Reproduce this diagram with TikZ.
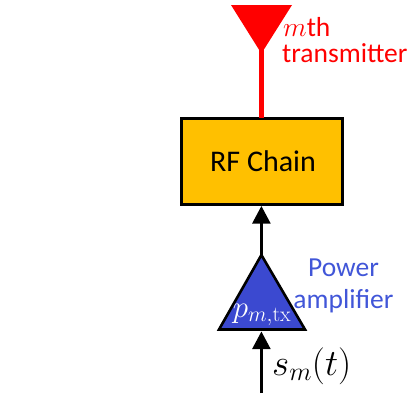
\RequirePackage{fix-cm}
\documentclass[tikz,border=0pt]{standalone}
\usepackage[no-math]{fontspec}
\setmainfont{Carlito}
\usetikzlibrary{arrows.meta}
\definecolor{rfgold}{HTML}{FFC000}
\definecolor{pablue}{HTML}{3B49D0}
\definecolor{patext}{HTML}{4156D8}
\tikzset{
  signal/.style={line width=2.2pt,-{Triangle[length=17.5pt,width=18pt]}},
  lbl/.style={inner sep=0pt,font=\fontsize{27.5}{32}\selectfont},
}
\begin{document}
\begin{tikzpicture}[x=1pt,y=-1pt]
\useasboundingbox (0,0) rectangle (409,399);
% RF chain
\node[draw=black,line width=3pt,fill=rfgold,minimum width=161pt,minimum height=86.5pt,inner sep=0pt,outer sep=0pt,anchor=north west] (rf) at (181.5,118) {};
\node[inner sep=0pt,anchor=base,font=\fontsize{30}{36}\selectfont] (rflab) at (263,171) {RF Chain};
% antenna
\coordinate (antTip) at (261.4,53.5);
\coordinate (antL) at (231,5);
\coordinate (antR) at (292,5);
\coordinate (antStem) at (261.4,44);
\fill[red] (antL) -- (antR) -- (antTip) -- cycle;
\draw[red,line width=4.7pt] (antStem) -- (antStem |- rf.north);
\node[lbl,text=red,anchor=base west] (mth) at (283,36) {$m$th};
\node[lbl,text=red,anchor=base west] (tx) at (282,62) {transmitter};
% amplifier
\coordinate (paTop) at (261.4,255);
\coordinate (paL) at (219,329.5);
\coordinate (paR) at (305,329.5);
\coordinate (paOut) at (261.4,206);
\coordinate (paIn) at (261.4,393);
\coordinate (paBase) at (261.4,331.5);
\filldraw[fill=pablue,draw=black,line width=2.6pt,line join=miter] (paTop) -- (paR) -- (paL) -- cycle;
\draw[signal] (paTop) -- (paOut);
\draw[signal] (paIn) -- (paBase);
\node[inner sep=0pt,text=white,anchor=base,font=\fontsize{31}{36}\selectfont] (plab) at (262,317) {$p_{m,\mathrm{tx}}$};
\node[lbl,text=patext,anchor=base] (pw) at (343.5,276) {Power};
\node[lbl,text=patext,anchor=base] (amp) at (343.5,308) {amplifier};
\node[inner sep=0pt,font=\fontsize{37}{44}\selectfont,anchor=base west] (sig) at (272,375) {$s_m(t)$};
\end{tikzpicture}
\end{document}
